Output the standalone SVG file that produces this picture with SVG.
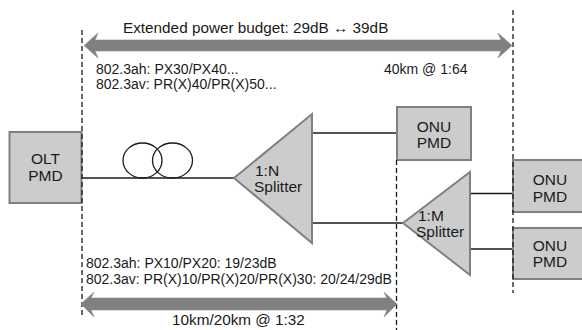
<svg xmlns="http://www.w3.org/2000/svg" width="582" height="330" viewBox="0 0 582 330">
<style>
.box{fill:#cccccc;stroke:#808080;stroke-width:2}
.lbl{font-family:"Liberation Sans",Arial,sans-serif;font-size:15.5px;fill:#1a1a1a;text-anchor:middle}
.st{text-anchor:start}
.txt{font-family:"Liberation Sans",Arial,sans-serif;font-size:14px;fill:#1a1a1a}
.big{font-size:15.3px}
.dash{stroke:#1a1a1a;stroke-width:1.3;stroke-dasharray:5,3;fill:none}
.wire{stroke:#1a1a1a;stroke-width:1.3;fill:none}
.arrow{fill:#808080;stroke:#8c8c8c;stroke-width:0.6}
</style>
<rect width="582" height="330" fill="#ffffff"/>
<g id="connectors">
<line class="wire" x1="82" y1="178" x2="234" y2="178"/>
<ellipse class="wire" cx="142.5" cy="160.5" rx="19.5" ry="17.5"/>
<ellipse class="wire" cx="172.5" cy="160.5" rx="20" ry="17.5"/>
<line class="wire" x1="312" y1="133" x2="397" y2="133"/>
<line class="wire" x1="312" y1="223" x2="403" y2="223"/>
<line class="wire" x1="470" y1="193.5" x2="513" y2="193.5"/>
<line class="wire" x1="470" y1="249" x2="513" y2="249"/>
</g>
<g id="olt">
<rect class="box" x="9.5" y="132" width="72" height="71"/>
<text class="lbl" x="45.5" y="164">OLT</text>
<text class="lbl" x="45.5" y="180.5">PMD</text>
</g>
<g id="splitter1">
<polygon class="box" points="234,178 312,114 312,243"/>
<text class="lbl st" x="255" y="175.5">1:N</text>
<text class="lbl st" x="254" y="192">Splitter</text>
</g>
<g id="onu1">
<rect class="box" x="397" y="107" width="74" height="53"/>
<text class="lbl" x="434" y="131.5">ONU</text>
<text class="lbl" x="434" y="148">PMD</text>
</g>
<g id="splitter2">
<polygon class="box" points="403,223 470,172 470,275"/>
<text class="lbl st" x="418" y="220.5">1:M</text>
<text class="lbl st" x="416" y="237">Splitter</text>
</g>
<g id="onu2">
<rect class="box" x="513" y="160" width="80" height="52"/>
<text class="lbl" x="550" y="185">ONU</text>
<text class="lbl" x="550" y="201.5">PMD</text>
</g>
<g id="onu3">
<rect class="box" x="513" y="228" width="80" height="51"/>
<text class="lbl" x="550" y="250.5">ONU</text>
<text class="lbl" x="550" y="267">PMD</text>
</g>
<g id="boundaries">
<line class="dash" x1="82" y1="30" x2="82" y2="318"/>
<line class="dash" x1="396.5" y1="160" x2="396.5" y2="330"/>
<line class="dash" x1="513" y1="10" x2="513" y2="293"/>
</g>
<g id="top-budget">
<path class="arrow" d="M84,45.5 L98,33 L95,40 L501,40 L498,33 L512,45.5 L498,58 L501,51 L95,51 L98,58 Z"/>
<text class="txt big" x="123" y="33">Extended power budget: 29dB ↔ 39dB</text>
<text class="txt" x="96" y="74">802.3ah: PX30/PX40...</text>
<text class="txt" x="96" y="88.5">802.3av: PR(X)40/PR(X)50...</text>
<text class="txt" x="384" y="73.5">40km @ 1:64</text>
</g>
<g id="bottom-budget">
<path class="arrow" d="M81,304 L94,292 L91,298 L387,298 L384,292 L397,304 L384,317 L387,310 L91,310 L94,317 Z"/>
<text class="txt" x="86" y="267.5">802.3ah: PX10/PX20: 19/23dB</text>
<text class="txt" x="86" y="284">802.3av: PR(X)10/PR(X)20/PR(X)30: 20/24/29dB</text>
<text class="txt big" x="172" y="325">10km/20km @ 1:32</text>
</g>
</svg>
